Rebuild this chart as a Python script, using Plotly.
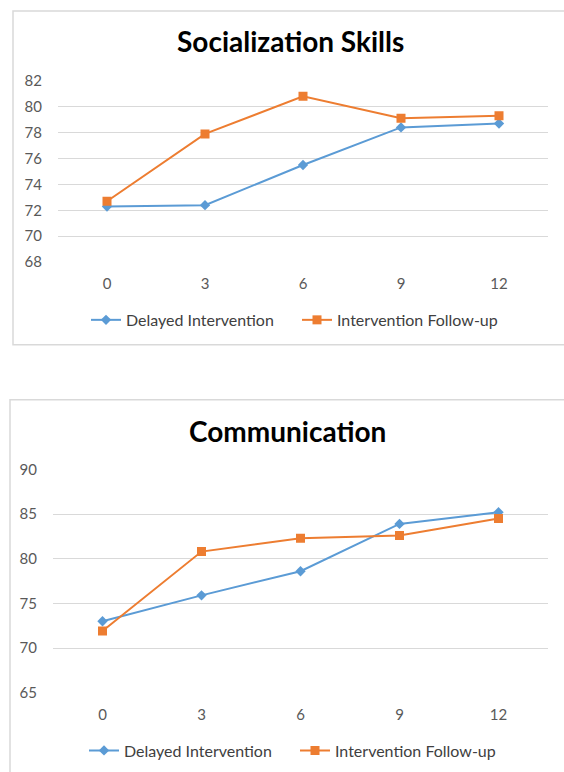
import plotly.graph_objects as go

months = ["0", "3", "6", "9", "12"]

soc_delayed = [72.3, 72.4, 75.5, 78.4, 78.7]
soc_followup = [72.7, 77.9, 80.8, 79.1, 79.3]
soc_ticks = [68, 70, 72, 74, 76, 78, 80, 82]

com_delayed = [73.0, 75.9, 78.6, 83.9, 85.2]
com_followup = [71.9, 80.8, 82.3, 82.6, 84.5]
com_ticks = [65, 70, 75, 80, 85, 90]

W, H = 564, 772
BLUE = "#5B9BD5"
ORANGE = "#ED7D31"
GRID = "#D9D9D9"
FONT = "Lato"

def px_x(p):
    return p / W

def px_y(p):
    # the capture shows a small vertical offset/scale; compensate for it
    q = (p - 8) / 0.98
    return 1 - q / H

fig = go.Figure()

# top chart
fig.add_trace(go.Scatter(x=months, y=soc_delayed, name="Delayed Intervention", mode="lines+markers",
                         line=dict(color=BLUE, width=2), marker=dict(symbol="diamond", size=8, color=BLUE),
                         xaxis="x", yaxis="y", legend="legend"))
fig.add_trace(go.Scatter(x=months, y=soc_followup, name="Intervention Follow-up", mode="lines+markers",
                         line=dict(color=ORANGE, width=2), marker=dict(symbol="square", size=9, color=ORANGE),
                         xaxis="x", yaxis="y", legend="legend"))
# bottom chart
fig.add_trace(go.Scatter(x=months, y=com_delayed, name="Delayed Intervention", mode="lines+markers",
                         line=dict(color=BLUE, width=2), marker=dict(symbol="diamond", size=8, color=BLUE),
                         xaxis="x2", yaxis="y2", legend="legend2"))
fig.add_trace(go.Scatter(x=months, y=com_followup, name="Intervention Follow-up", mode="lines+markers",
                         line=dict(color=ORANGE, width=2), marker=dict(symbol="square", size=9, color=ORANGE),
                         xaxis="x2", yaxis="y2", legend="legend2"))

tickfont = dict(family=FONT, size=15, color="#595959")

xcommon = dict(type="category", range=[-0.5, 4.5], showgrid=False, zeroline=False,
               showline=False, ticks="outside", ticklen=8, tickcolor="rgba(0,0,0,0)",
               tickfont=tickfont, fixedrange=True)
ycommon = dict(showgrid=True, gridcolor=GRID, gridwidth=1.3, zeroline=False, showline=False,
               ticks="outside", ticklen=12, tickcolor="rgba(0,0,0,0)", tickfont=tickfont, fixedrange=True)

legfont = dict(family=FONT, size=16, color="#404040")

fig.update_layout(
    width=W, height=H,
    margin=dict(l=0, r=0, t=0, b=0),
    paper_bgcolor="white", plot_bgcolor="white",
    showlegend=True,
    xaxis=dict(domain=[px_x(58), px_x(548)], anchor="y", **xcommon),
    yaxis=dict(domain=[px_y(261), px_y(79)], range=[68, 82], tickvals=soc_ticks, anchor="x", **ycommon),
    xaxis2=dict(domain=[px_x(53), px_x(548)], anchor="y2", **xcommon),
    yaxis2=dict(domain=[px_y(693), px_y(469)], range=[65, 90], tickvals=com_ticks, anchor="x2", **ycommon),
    legend=dict(orientation="h", x=px_x(86), xanchor="left", y=px_y(319), yanchor="middle",
                font=legfont, bgcolor="rgba(0,0,0,0)", itemwidth=30, tracegroupgap=0,
                entrywidth=166, entrywidthmode="pixels"),
    legend2=dict(orientation="h", x=px_x(84), xanchor="left", y=px_y(751), yanchor="middle",
                 font=legfont, bgcolor="rgba(0,0,0,0)", itemwidth=30, tracegroupgap=0,
                 entrywidth=166, entrywidthmode="pixels"),
    annotations=[
        dict(text="<b>Socialization Skills</b>", x=px_x(290), y=px_y(39), xref="paper", yref="paper",
             xanchor="center", yanchor="middle", showarrow=False,
             font=dict(family=FONT, size=28, color="#000000")),
        dict(text="<b>Communication</b>", x=px_x(287), y=px_y(430), xref="paper", yref="paper",
             xanchor="center", yanchor="middle", showarrow=False,
             font=dict(family=FONT, size=28, color="#000000")),
    ],
    shapes=[
        dict(type="rect", xref="paper", yref="paper", x0=px_x(13), x1=px_x(575), y0=px_y(344), y1=px_y(9),
             line=dict(color=GRID, width=1.5), layer="below"),
        dict(type="rect", xref="paper", yref="paper", x0=px_x(10), x1=px_x(575), y0=px_y(790), y1=px_y(399),
             line=dict(color=GRID, width=1.5), layer="below"),
    ],
)

fig.write_html(
    "out.html",
    config={"displayModeBar": False},
    post_script=(
        "document.documentElement.style.margin='0';"
        "document.body.style.margin='0';document.body.style.overflow='hidden';"
        "var d=document.getElementById('{plot_id}');"
        "d.style.position='fixed';d.style.left='0px';d.style.top='0px';"
    ),
)
